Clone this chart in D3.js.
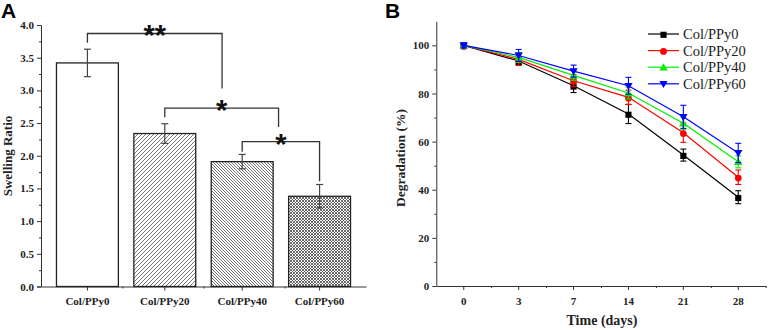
<!DOCTYPE html>
<html>
<head>
<meta charset="utf-8">
<script src="https://cdn.jsdelivr.net/npm/d3@7"></script>
<style>
  body { margin: 0; background: #fff; }
  svg { display: block; }
  .tick text { font-family: "Liberation Serif", "Times New Roman", serif; font-weight: bold; font-size: 11px; fill: #222; }
  .domain, .tick line { stroke: #333; }
</style>
</head>
<body>
<div id="chart"></div>
<script>
// Panel A — swelling ratio
const groups = ['Col/PPy0', 'Col/PPy20', 'Col/PPy40', 'Col/PPy60'];
const swelling = [3.42, 2.34, 1.91, 1.38];
const swellingErr = [0.21, 0.15, 0.11, 0.18];
const swellTicks = [0, 0.5, 1, 1.5, 2, 2.5, 3, 3.5, 4];
// significance brackets: x positions in group index units, y in data units
const brackets = [
  { x1: 0, x2: 1.74, top: 3.87, y1: 3.73, y2: 3.03, label: '**' },
  { x1: 1, x2: 2.47, top: 2.73, y1: 2.59, y2: 2.44, label: '*' },
  { x1: 2, x2: 3, top: 2.215, y1: 2.06, y2: 1.61, label: '*' }
];

// Panel B — degradation
const days = ['0', '3', '7', '14', '21', '28'];
const degTicks = [0, 20, 40, 60, 80, 100];
const ppy0 = [100, 93.5, 83.2, 71.5, 54.4, 36.9];
const ppy0Err = [1, 1.5, 2.8, 4, 2.5, 2.7];
const ppy20 = [100, 94.2, 85.3, 78.4, 63.7, 45.2];
const ppy20Err = [1, 2.6, 2.5, 3, 4, 3];
const ppy40 = [100, 95, 87.5, 80.2, 67.6, 51.6];
const ppy40Err = [1, 2, 2, 2.5, 2.5, 2.5];
const ppy60 = [100, 95.8, 89.3, 83.2, 70.3, 55.3];
const ppy60Err = [1, 2.5, 2.5, 3.5, 4.8, 4];

const series = [
  { name: 'Col/PPy0', values: ppy0, err: ppy0Err, color: '#000000', symbol: d3.symbolSquare, size: 38, rot: 0 },
  { name: 'Col/PPy20', values: ppy20, err: ppy20Err, color: '#ff0000', symbol: d3.symbolCircle, size: 36, rot: 0 },
  { name: 'Col/PPy40', values: ppy40, err: ppy40Err, color: '#00ee00', symbol: d3.symbolTriangle, size: 30, rot: 0 },
  { name: 'Col/PPy60', values: ppy60, err: ppy60Err, color: '#0000ff', symbol: d3.symbolTriangle, size: 30, rot: 180 }
];

const W = 768, H = 330;
const svg = d3.select('#chart').append('svg').attr('width', W).attr('height', H);
const serif = '"Liberation Serif", "Times New Roman", serif';

// hatch patterns
const defs = svg.append('defs');
function hatch(id, size, paths, sw, color) {
  const p = defs.append('pattern').attr('id', id).attr('patternUnits', 'userSpaceOnUse')
    .attr('width', size).attr('height', size);
  p.append('rect').attr('width', size).attr('height', size).attr('fill', '#fff');
  paths.forEach(d => p.append('path').attr('d', d).attr('stroke', color).attr('stroke-width', sw).attr('fill', 'none'));
}
hatch('fwd', 4, ['M-1,1 L1,-1', 'M0,4 L4,0', 'M3,5 L5,3'], 0.8, '#555');
hatch('bwd', 3, ['M-1,2 L1,4', 'M0,0 L3,3', 'M2,-1 L4,1'], 0.75, '#444');
hatch('cross', 3, ['M0,0 L3,3', 'M3,0 L0,3', 'M-1,2 L1,4', 'M2,-1 L4,1', 'M2,4 L4,2', 'M-1,1 L1,-1'], 0.8, '#444');
const fills = ['#fff', 'url(#fwd)', 'url(#bwd)', 'url(#cross)'];

// ---------- Panel A ----------
const xA = d3.scaleBand().domain(groups).range([41, 366]).padding(0.2);
const yA = d3.scaleLinear().domain([0, 4]).range([286.5, 25]);
const idxA = d3.scaleLinear().domain([0, 3]).range([xA(groups[0]) + xA.bandwidth() / 2, xA(groups[3]) + xA.bandwidth() / 2]);

const gA = svg.append('g');
gA.append('g').attr('transform', 'translate(41,0)')
  .call(d3.axisLeft(yA).tickValues(swellTicks).tickFormat(d3.format('.1f')).tickSize(4).tickPadding(3));
gA.append('g').attr('transform', 'translate(41,0)')
  .call(d3.axisLeft(yA).tickValues(d3.range(0.25, 4, 0.5)).tickFormat('').tickSize(2))
  .select('.domain').remove();
const axA = gA.append('g').attr('transform', 'translate(0,286.5)')
  .call(d3.axisBottom(xA).tickSize(4).tickSizeOuter(0).tickPadding(7));
axA.selectAll('.tick text').style('font-size', '11px');
gA.append('g').attr('transform', 'translate(0,286.5)')
  .call(d3.axisBottom(d3.scaleLinear().domain([0, 4]).range([41, 366])).tickValues([1, 2, 3]).tickFormat('').tickSize(2))
  .select('.domain').remove();

gA.selectAll('rect.bar').data(groups).join('rect').attr('class', 'bar')
  .attr('x', d => xA(d)).attr('width', xA.bandwidth())
  .attr('y', (d, i) => yA(swelling[i])).attr('height', (d, i) => yA(0) - yA(swelling[i]))
  .attr('fill', (d, i) => fills[i]).attr('stroke', '#222').attr('stroke-width', 1.3);

groups.forEach((g, i) => {
  const cx = xA(g) + xA.bandwidth() / 2;
  const e = gA.append('g').attr('stroke', '#444').attr('stroke-width', 1.2);
  e.append('line').attr('x1', cx).attr('x2', cx).attr('y1', yA(swelling[i] + swellingErr[i])).attr('y2', yA(swelling[i] - swellingErr[i]));
  [1, -1].forEach(s => e.append('line').attr('x1', cx - 3.5).attr('x2', cx + 3.5)
    .attr('y1', yA(swelling[i] + s * swellingErr[i])).attr('y2', yA(swelling[i] + s * swellingErr[i])));
});

brackets.forEach(b => {
  const x1 = idxA(b.x1), x2 = idxA(b.x2);
  gA.append('path')
    .attr('d', `M${x1},${yA(b.y1)} V${yA(b.top)} H${x2} V${yA(b.y2)}`)
    .attr('fill', 'none').attr('stroke', '#333').attr('stroke-width', 1.3);
  gA.append('text').attr('x', (x1 + x2) / 2).attr('y', yA(b.top) + 12)
    .attr('text-anchor', 'middle').style('font-family', 'Liberation Sans, Arial, sans-serif')
    .style('font-weight', 'bold').style('font-size', '29px').style('fill', '#111').text(b.label);
});

gA.append('text').attr('transform', 'translate(12,156) rotate(-90)').attr('text-anchor', 'middle')
  .style('font-family', serif).style('font-weight', 'bold').style('font-size', '13px').style('fill', '#222')
  .text('Swelling Ratio');
svg.append('text').attr('x', 1).attr('y', 18)
  .style('font-family', 'Liberation Sans, Arial, sans-serif').style('font-weight', 'bold').style('font-size', '21px')
  .text('A');

// ---------- Panel B ----------
const xB = d3.scaleBand().domain(days).range([436.3, 765.7]);
const yB = d3.scaleLinear().domain([0, 110]).range([286, 21.3]);
const cxB = d => xB(d) + xB.bandwidth() / 2;

const gB = svg.append('g');
gB.append('g').attr('transform', 'translate(436.3,0)')
  .call(d3.axisLeft(yB).tickValues(degTicks).tickSize(4).tickSizeOuter(0).tickPadding(3));
gB.append('g').attr('transform', 'translate(436.3,0)')
  .call(d3.axisLeft(yB).tickValues(d3.range(10, 110, 20)).tickFormat('').tickSize(2))
  .select('.domain').remove();
gB.append('g').attr('transform', 'translate(0,286)')
  .call(d3.axisBottom(xB).tickSize(4).tickSizeOuter(0).tickPadding(7));
gB.append('g').attr('transform', 'translate(0,286)')
  .call(d3.axisBottom(d3.scaleLinear().domain([0, 6]).range([436.3, 765.7])).tickValues([1, 2, 3, 4, 5, 6]).tickFormat('').tickSize(2))
  .select('.domain').remove();

const line = d3.line().x((d, i) => cxB(days[i])).y(d => yB(d));
series.forEach(s => {
  const g = gB.append('g');
  g.append('path').attr('d', line(s.values)).attr('fill', 'none').attr('stroke', s.color).attr('stroke-width', 1.2);
  s.values.forEach((v, i) => {
    const x = cxB(days[i]);
    const e = g.append('g').attr('stroke', s.color).attr('stroke-width', 1.1);
    e.append('line').attr('x1', x).attr('x2', x).attr('y1', yB(v + s.err[i])).attr('y2', yB(v - s.err[i]));
    [1, -1].forEach(k => e.append('line').attr('x1', x - 3).attr('x2', x + 3)
      .attr('y1', yB(v + k * s.err[i])).attr('y2', yB(v + k * s.err[i])));
  });
  g.selectAll('path.mk').data(s.values).join('path').attr('class', 'mk')
    .attr('d', d3.symbol(s.symbol, s.size))
    .attr('transform', (d, i) => `translate(${cxB(days[i])},${yB(d) + (s.rot ? -0.5 : 0.8)}) rotate(${s.rot})`)
    .attr('fill', s.color);
});

// legend
const lg = gB.append('g');
series.forEach((s, i) => {
  const y = 34 + i * 16.6;
  lg.append('line').attr('x1', 648).attr('x2', 679).attr('y1', y).attr('y2', y).attr('stroke', s.color).attr('stroke-width', 1.2);
  lg.append('path').attr('d', d3.symbol(s.symbol, s.size))
    .attr('transform', `translate(663.5,${y + (s.rot ? -0.5 : 0.8)}) rotate(${s.rot})`).attr('fill', s.color);
  lg.append('text').attr('x', 683).attr('y', y + 5)
    .style('font-family', serif).style('font-size', '14.5px').style('fill', '#222').text(s.name);
});

gB.append('text').attr('transform', 'translate(405,158) rotate(-90)').attr('text-anchor', 'middle')
  .style('font-family', serif).style('font-weight', 'bold').style('font-size', '13.5px').style('fill', '#222')
  .text('Degradation (%)');
gB.append('text').attr('x', 602).attr('y', 325).attr('text-anchor', 'middle')
  .style('font-family', serif).style('font-weight', 'bold').style('font-size', '14px').style('fill', '#222')
  .text('Time (days)');
svg.append('text').attr('x', 385).attr('y', 18)
  .style('font-family', 'Liberation Sans, Arial, sans-serif').style('font-weight', 'bold').style('font-size', '21px')
  .text('B');
</script>
</body>
</html>
